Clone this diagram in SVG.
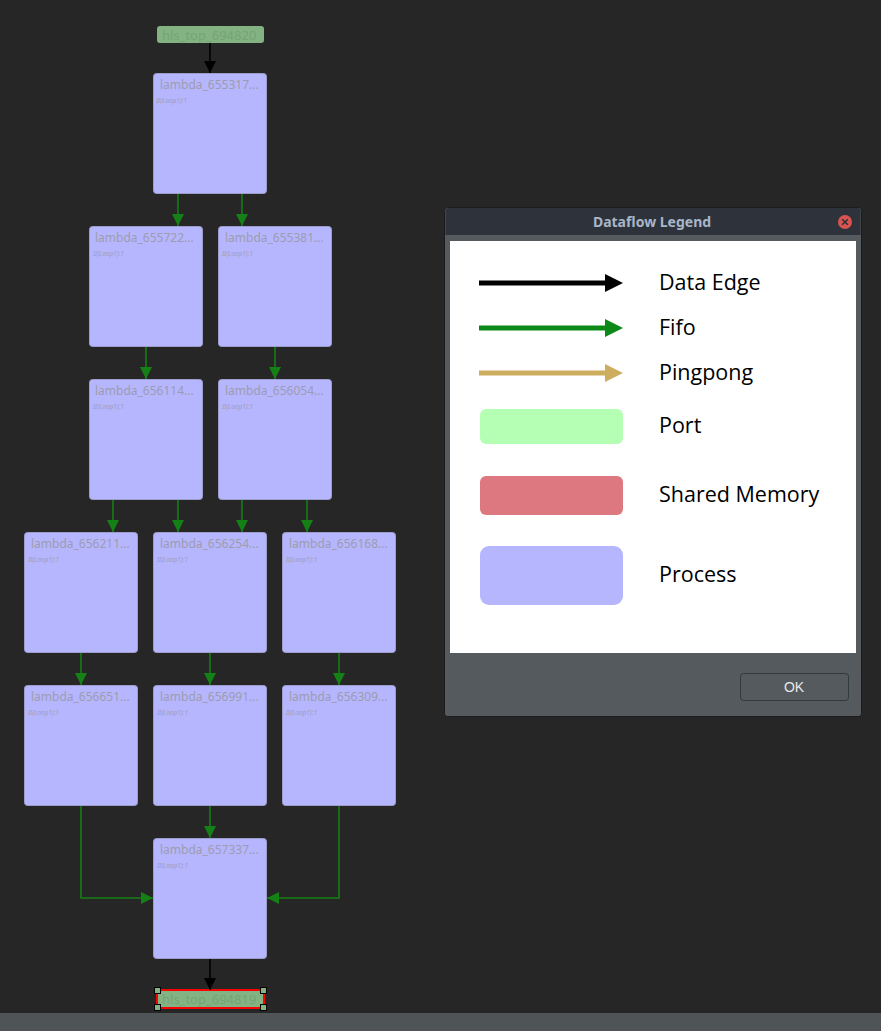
<svg xmlns="http://www.w3.org/2000/svg" width="881" height="1031" viewBox="0 0 881 1031">
  <defs>
    <marker id="ah-black" markerUnits="userSpaceOnUse" markerWidth="12" markerHeight="12" refX="10" refY="5" orient="auto" viewBox="0 0 10 10">
      <path d="M0,0 L10,5 L0,10 Z" fill="#000"/>
    </marker>
    <marker id="ah-green" markerUnits="userSpaceOnUse" markerWidth="12" markerHeight="12" refX="10" refY="5" orient="auto" viewBox="0 0 10 10">
      <path d="M0,0 L10,5 L0,10 Z" fill="#158015"/>
    </marker>
    <style>
      .proc rect { fill: #b6b6ff; stroke: #9d9dcc; stroke-width: 1; }
      .proc .name { font-family: "Noto Sans", "Open Sans", sans-serif; font-size: 12px; fill: #9c9cae; }
      .proc .ii { font-family: "Noto Sans", sans-serif; font-size: 6.5px; font-style: italic; fill: #9c9cb8; }
      .port rect { fill: #83b383; }
      .port text { font-family: "Noto Sans", sans-serif; font-size: 13px; fill: #76a376; }
      .data { stroke: #000; stroke-width: 1.6; fill: none; marker-end: url(#ah-black); }
      .fifo { stroke: #158015; stroke-width: 1.6; fill: none; marker-end: url(#ah-green); }
      .handle { fill: #fff; stroke: #000; stroke-width: 1; }
      .lg-label { font-family: "Open Sans", "Noto Sans", sans-serif; font-size: 21.5px; fill: #000; }
    </style>
  </defs>

  <!-- canvas -->
  <rect x="0" y="0" width="881" height="1031" fill="#262626"/>
  <rect x="0" y="1013" width="881" height="18" fill="#4f5457"/>

  <!-- ports -->
  <g id="port-in" class="port">
    <rect x="157" y="26" width="107" height="17" rx="3"/>
    <text x="162" y="39.5">hls_top_694820</text>
  </g>
  <g id="port-out" class="port">
    <rect x="157" y="990" width="107" height="18" fill="#83b383" stroke="#ff0000" stroke-width="2"/>
    <text x="162" y="1004">hls_top_694819</text>
    <rect class="handle" x="154.5" y="987.5" width="6" height="6"/>
    <rect class="handle" x="260.5" y="987.5" width="6" height="6"/>
    <rect class="handle" x="154.5" y="1004.5" width="6" height="6"/>
    <rect class="handle" x="260.5" y="1004.5" width="6" height="6"/>
  </g>

  <!-- process nodes -->
  <g id="n655317" class="proc"><rect x="153.5" y="73.5" width="113" height="120" rx="3"/><text class="name" x="160" y="89">lambda_655317...</text><text class="ii" x="156" y="103">II(Loop1):1</text></g>
  <g id="n655722" class="proc"><rect x="89.5" y="226.5" width="113" height="120" rx="3"/><text class="name" x="95" y="242">lambda_655722...</text><text class="ii" x="93" y="256">II(Loop1):1</text></g>
  <g id="n655381" class="proc"><rect x="218.5" y="226.5" width="113" height="120" rx="3"/><text class="name" x="225" y="242">lambda_655381...</text><text class="ii" x="222" y="256">II(Loop1):1</text></g>
  <g id="n656114" class="proc"><rect x="89.5" y="379.5" width="113" height="120" rx="3"/><text class="name" x="95" y="395">lambda_656114...</text><text class="ii" x="93" y="409">II(Loop1):1</text></g>
  <g id="n656054" class="proc"><rect x="218.5" y="379.5" width="113" height="120" rx="3"/><text class="name" x="225" y="395">lambda_656054...</text><text class="ii" x="222" y="409">II(Loop1):1</text></g>
  <g id="n656211" class="proc"><rect x="24.5" y="532.5" width="113" height="120" rx="3"/><text class="name" x="31" y="548">lambda_656211...</text><text class="ii" x="28" y="562">II(Loop1):1</text></g>
  <g id="n656254" class="proc"><rect x="153.5" y="532.5" width="113" height="120" rx="3"/><text class="name" x="160" y="548">lambda_656254...</text><text class="ii" x="157" y="562">II(Loop1):1</text></g>
  <g id="n656168" class="proc"><rect x="282.5" y="532.5" width="113" height="120" rx="3"/><text class="name" x="289" y="548">lambda_656168...</text><text class="ii" x="286" y="562">II(Loop1):1</text></g>
  <g id="n656651" class="proc"><rect x="24.5" y="685.5" width="113" height="120" rx="3"/><text class="name" x="31" y="701">lambda_656651...</text><text class="ii" x="28" y="715">II(Loop1):1</text></g>
  <g id="n656991" class="proc"><rect x="153.5" y="685.5" width="113" height="120" rx="3"/><text class="name" x="160" y="701">lambda_656991...</text><text class="ii" x="157" y="715">II(Loop1):1</text></g>
  <g id="n656309" class="proc"><rect x="282.5" y="685.5" width="113" height="120" rx="3"/><text class="name" x="289" y="701">lambda_656309...</text><text class="ii" x="286" y="715">II(Loop1):1</text></g>
  <g id="n657337" class="proc"><rect x="153.5" y="838.5" width="113" height="120" rx="3"/><text class="name" x="160" y="854">lambda_657337...</text><text class="ii" x="157" y="868">II(Loop1):1</text></g>

  <!-- connectors -->
  <g id="edges">
    <line class="data" x1="210" y1="43" x2="210" y2="73"/>
    <line class="fifo" x1="178" y1="194" x2="178" y2="226"/>
    <line class="fifo" x1="242" y1="194" x2="242" y2="226"/>
    <line class="fifo" x1="146" y1="347" x2="146" y2="379"/>
    <line class="fifo" x1="275" y1="347" x2="275" y2="379"/>
    <line class="fifo" x1="113" y1="500" x2="113" y2="532"/>
    <line class="fifo" x1="178" y1="500" x2="178" y2="532"/>
    <line class="fifo" x1="242" y1="500" x2="242" y2="532"/>
    <line class="fifo" x1="307" y1="500" x2="307" y2="532"/>
    <line class="fifo" x1="81" y1="653" x2="81" y2="685"/>
    <line class="fifo" x1="210" y1="653" x2="210" y2="685"/>
    <line class="fifo" x1="339" y1="653" x2="339" y2="685"/>
    <line class="fifo" x1="210" y1="806" x2="210" y2="838"/>
    <polyline class="fifo" points="81,806 81,898 153,898"/>
    <polyline class="fifo" points="339,806 339,898 267,898"/>
    <line class="data" x1="210" y1="959" x2="210" y2="990"/>
  </g>

  <!-- legend dialog -->
  <g id="legend">
    <rect x="444.5" y="207.5" width="417" height="509" rx="3" fill="#545a5d" stroke="#1c1c1c"/>
    <path d="M445.5,235 V211 a3,3 0 0 1 3,-3 H857.5 a3,3 0 0 1 3,3 V235 Z" fill="#2e323b"/>
    <text x="652" y="227" text-anchor="middle" font-family="Noto Sans, DejaVu Sans, sans-serif" font-size="14" font-weight="bold" fill="#a9b6c8">Dataflow Legend</text>
    <circle cx="845" cy="222" r="7" fill="#d9534f"/>
    <path d="M842.2,219.2 L847.8,224.8 M847.8,219.2 L842.2,224.8" stroke="#2e323b" stroke-width="1.6"/>
    <rect x="450" y="241" width="406" height="412" fill="#fff"/>

    <line x1="479" y1="283" x2="607" y2="283" stroke="#000" stroke-width="5"/>
    <path d="M605,274 L623,283 L605,292 Z" fill="#000"/>
    <text class="lg-label" x="659" y="290">Data Edge</text>

    <line x1="479" y1="328" x2="607" y2="328" stroke="#0c8a18" stroke-width="5"/>
    <path d="M605,319 L623,328 L605,337 Z" fill="#0c8a18"/>
    <text class="lg-label" x="659" y="335">Fifo</text>

    <line x1="479" y1="373" x2="607" y2="373" stroke="#cdae5e" stroke-width="5"/>
    <path d="M605,364 L623,373 L605,382 Z" fill="#cdae5e"/>
    <text class="lg-label" x="659" y="380">Pingpong</text>

    <rect x="480" y="409" width="143" height="35" rx="6" fill="#b5ffb5"/>
    <text class="lg-label" x="659" y="433">Port</text>

    <rect x="480" y="476" width="143" height="39" rx="6" fill="#dd7780"/>
    <text class="lg-label" x="659" y="502">Shared Memory</text>

    <rect x="480" y="546" width="143" height="59" rx="9" fill="#b6b6ff"/>
    <text class="lg-label" x="659" y="582">Process</text>

    <rect x="740.5" y="673.5" width="108" height="27" rx="3" fill="#545a5d" stroke="#33383b"/>
    <text x="794" y="692" text-anchor="middle" font-family="Liberation Sans, Arial, sans-serif" font-size="14" fill="#e8e8e8">OK</text>
  </g>
</svg>
